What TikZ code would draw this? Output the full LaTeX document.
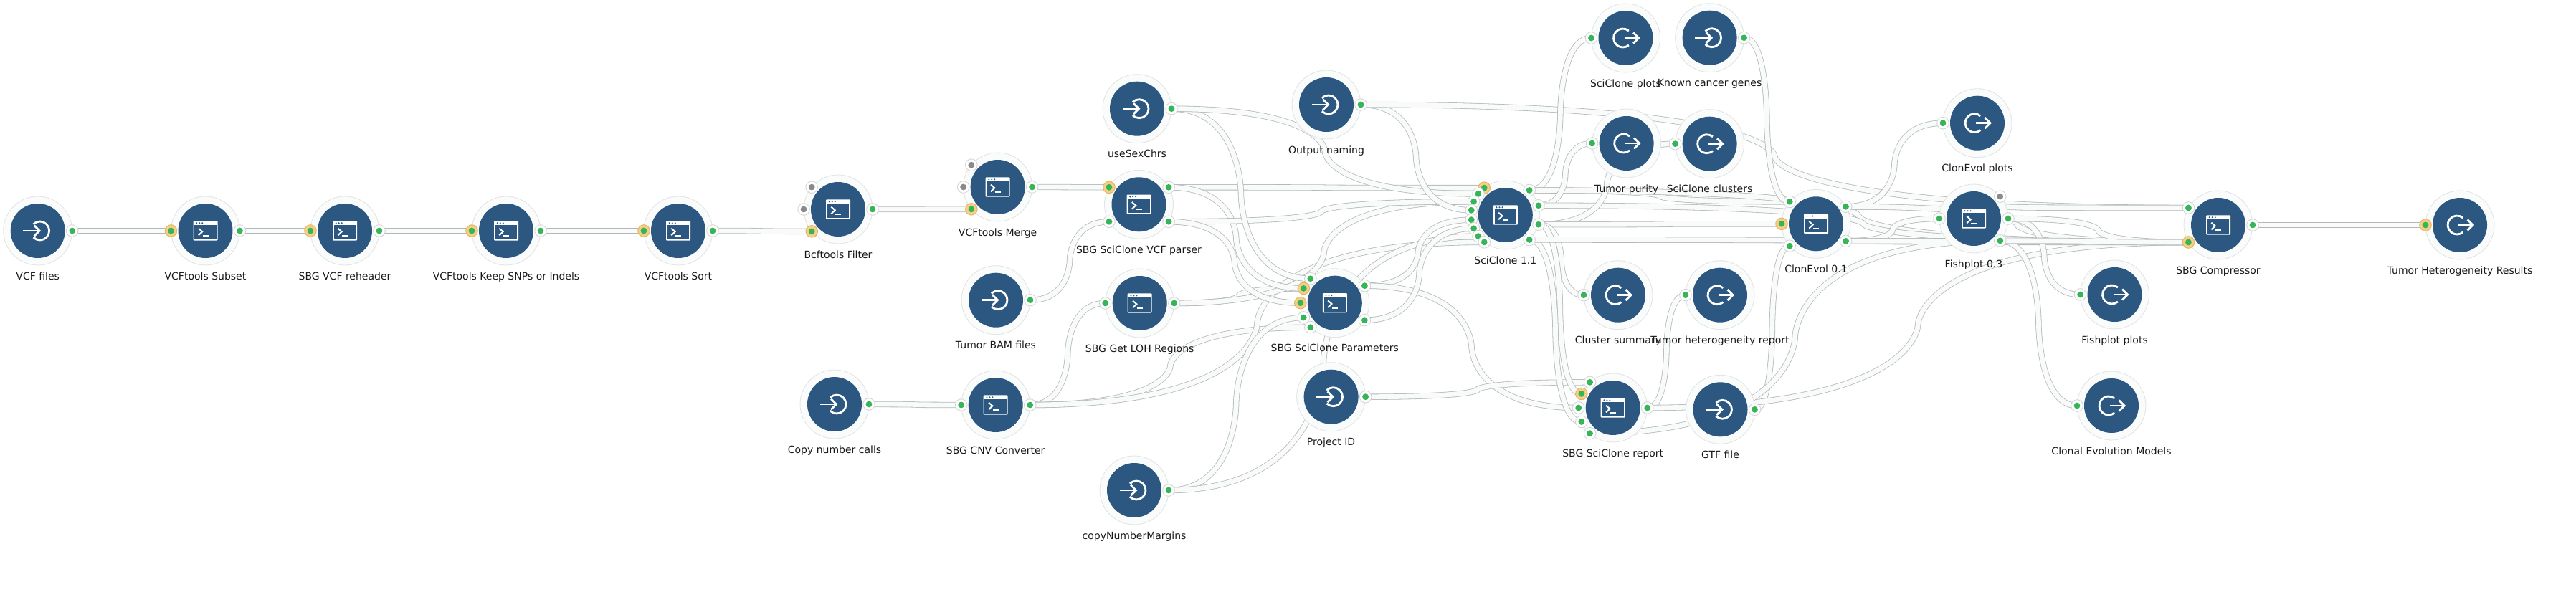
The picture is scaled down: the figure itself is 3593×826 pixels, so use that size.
\documentclass[tikz,border=0pt]{standalone}
\usepackage{fontspec}
\setmainfont{DejaVu Sans}
\usetikzlibrary{positioning,calc,backgrounds}
\definecolor{discblue}{HTML}{2B5780}
\definecolor{ringfill}{HTML}{FAFCFC}
\definecolor{ringedge}{HTML}{E2E5E5}
\definecolor{portedge}{HTML}{D2D5D5}
\definecolor{portgreen}{HTML}{35B558}
\definecolor{portgray}{HTML}{8A8A8A}
\definecolor{reqfill}{HTML}{F5CF85}
\definecolor{reqedge}{HTML}{DFB463}
\definecolor{wireedge}{HTML}{B4B8B8}
\definecolor{wirefill}{HTML}{F9FBFB}
\tikzset{
  pics/termicon/.style={code={
    \fill[white,rounded corners=1pt] (-17,-13.7) rectangle (17,13.7);
    \fill[discblue] (-15.3,-7.7) rectangle (15.3,12);
    \fill[discblue] (-12.3,-10.7) circle (1.1pt) (-8.3,-10.7) circle (1.1pt) (-4.3,-10.7) circle (1.1pt);
    \draw[white,line width=2pt] (-9.7,-3.3) -- (-4.3,1.3) -- (-9.7,6.3);
    \draw[white,line width=2pt] (-3.7,7) -- (4,7);
  }},
  pics/inicon/.style={code={
    \draw[white,line width=2.8pt] (3,0) ++(135:13pt) arc[start angle=135,end angle=-135,radius=13pt];
    \draw[white,line width=2.8pt] (-20.5,0) -- (2,0);
    \draw[white,line width=2.8pt] (-5,-7.5) -- (2.5,0) -- (-5,7.5);
  }},
  pics/outicon/.style={code={
    \draw[white,line width=2.8pt] (-4,0) ++(50:13pt) arc[start angle=50,end angle=310,radius=13pt];
    \draw[white,line width=2.8pt] (-2,0) -- (18,0);
    \draw[white,line width=2.8pt] (10.5,-7.5) -- (18,0) -- (10.5,7.5);
  }},
  disc/.style={circle,minimum size=96pt,inner sep=0pt,outer sep=0pt,draw=ringedge,line width=.9pt,fill=ringfill},
  toolnode/.style={disc,path picture={
    \fill[discblue] (path picture bounding box.center) circle (38pt);
    \pic at (path picture bounding box.center) {termicon};}},
  innode/.style={disc,path picture={
    \fill[discblue] (path picture bounding box.center) circle (38pt);
    \pic at (path picture bounding box.center) {inicon};}},
  outnode/.style={disc,path picture={
    \fill[discblue] (path picture bounding box.center) circle (38pt);
    \pic at (path picture bounding box.center) {outicon};}},
  port/.style={circle,minimum size=16.6pt,inner sep=0pt,outer sep=0pt,draw=portedge,line width=.9pt,fill=white,path picture={
    \fill[portgreen] (path picture bounding box.center) circle (4.4pt);}},
  reqport/.style={port,draw=reqedge,fill=reqfill},
  offport/.style={port,path picture={
    \fill[portgray] (path picture bounding box.center) circle (4.4pt);}},
  caption/.style={inner sep=0pt,text height=10.2pt,text depth=3pt,text=black!90,font=\fontsize{14}{17}\selectfont},
  wire/.style={line width=.8pt,
    every edge/.style={draw=wireedge,double=wirefill,double distance=6.8pt},
    to path={let \p1=(\tikztostart), \p2=(\tikztotarget), \p3=($(\p1)!0.5!(\p2)$) in
      .. controls (\x3,\y1) and (\x3,\y3) .. (\p3) .. controls (\x3,\y3) and (\x3,\y2) .. (\p2)}}
}

\begin{document}
\begin{tikzpicture}[x=1pt,y=-1pt,node distance=9.8pt]
  \useasboundingbox (0,0) rectangle (3593,826);

  % inputs and tools, left to right
  \node[innode] (vcf) at (52.7,322) {};
  \node[toolnode] (sub) at (286.5,322) {};
  \node[toolnode] (rehead) at (481,322) {};
  \node[toolnode] (keep) at (706,322) {};
  \node[toolnode] (sort) at (946,322) {};
  \node[toolnode] (bcf) at (1169,292) {};
  \node[toolnode] (merge) at (1391.6,261) {};
  \node[innode] (sexchrs) at (1586,151.7) {};
  \node[innode] (naming) at (1850,146) {};
  \node[toolnode] (parser) at (1588.5,285.3) {};
  \node[innode] (bam) at (1389,418.7) {};
  \node[toolnode] (loh) at (1589.7,423) {};
  \node[toolnode] (param) at (1861.8,422.7) {};
  \node[innode] (calls) at (1164,564) {};
  \node[toolnode] (cnv) at (1388.7,565) {};
  \node[innode] (project) at (1856.6,553.7) {};
  \node[innode] (margins) at (1582,684) {};
  \node[toolnode] (sc) at (2099.8,300) {};
  \node[outnode] (splots) at (2267.5,53) {};
  \node[innode] (known) at (2384.6,52.7) {};
  \node[outnode] (purity) at (2268.6,200) {};
  \node[outnode] (clusters) at (2384.6,200.7) {};
  \node[outnode] (summary) at (2257,411.7) {};
  \node[outnode] (hetrep) at (2399,411.7) {};
  \node[toolnode] (report) at (2249.7,569) {};
  \node[innode] (gtf) at (2399.5,571.3) {};
  \node[toolnode] (ce) at (2533,312.3) {};
  \node[outnode] (ceplots) at (2758,171.7) {};
  \node[toolnode] (fish) at (2753,305) {};
  \node[outnode] (fplots) at (2949.5,411) {};
  \node[outnode] (models) at (2945,566) {};
  \node[toolnode] (comp) at (3094,314) {};
  \node[outnode] (results) at (3431,314) {};

  % captions
  \node[caption,below=of vcf] (vcf-t) {VCF files};
  \node[caption,below=of sub] (sub-t) {VCFtools Subset};
  \node[caption,below=of rehead] (rehead-t) {SBG VCF reheader};
  \node[caption,below=of keep] (keep-t) {VCFtools Keep SNPs or Indels};
  \node[caption,below=of sort] (sort-t) {VCFtools Sort};
  \node[caption,below=of bcf] (bcf-t) {Bcftools Filter};
  \node[caption,below=of merge] (merge-t) {VCFtools Merge};
  \node[caption,below=of sexchrs] (sexchrs-t) {useSexChrs};
  \node[caption,below=of naming] (naming-t) {Output naming};
  \node[caption,below=of parser] (parser-t) {SBG SciClone VCF parser};
  \node[caption,below=of bam] (bam-t) {Tumor BAM files};
  \node[caption,below=of loh] (loh-t) {SBG Get LOH Regions};
  \node[caption,below=of param] (param-t) {SBG SciClone Parameters};
  \node[caption,below=of calls] (calls-t) {Copy number calls};
  \node[caption,below=of cnv] (cnv-t) {SBG CNV Converter};
  \node[caption,below=of project] (project-t) {Project ID};
  \node[caption,below=of margins] (margins-t) {copyNumberMargins};
  \node[caption,below=of sc] (sc-t) {SciClone 1.1};
  \node[caption,below=of splots] (splots-t) {SciClone plots};
  \node[caption,below=of known] (known-t) {Known cancer genes};
  \node[caption,below=of purity] (purity-t) {Tumor purity};
  \node[caption,below=of clusters] (clusters-t) {SciClone clusters};
  \node[caption,below=of summary] (summary-t) {Cluster summary};
  \node[caption,below=of hetrep] (hetrep-t) {Tumor heterogeneity report};
  \node[caption,below=of report] (report-t) {SBG SciClone report};
  \node[caption,below=of gtf] (gtf-t) {GTF file};
  \node[caption,below=of ce] (ce-t) {ClonEvol 0.1};
  \node[caption,below=of ceplots] (ceplots-t) {ClonEvol plots};
  \node[caption,below=of fish] (fish-t) {Fishplot 0.3};
  \node[caption,below=of fplots] (fplots-t) {Fishplot plots};
  \node[caption,below=of models] (models-t) {Clonal Evolution Models};
  \node[caption,below=of comp] (comp-t) {SBG Compressor};
  \node[caption,below=of results] (results-t) {Tumor Heterogeneity Results};

  % ports
  \node[port] (vcf-o) at (vcf.0) {};
  \node[reqport] (sub-i) at (sub.180) {};
  \node[port] (sub-o) at (sub.0) {};
  \node[reqport] (rehead-i) at (rehead.180) {};
  \node[port] (rehead-o) at (rehead.0) {};
  \node[reqport] (keep-i) at (keep.180) {};
  \node[port] (keep-o) at (keep.0) {};
  \node[reqport] (sort-i) at (sort.180) {};
  \node[port] (sort-o) at (sort.0) {};
  \node[offport] (bcf-a) at (bcf.140) {};
  \node[offport] (bcf-b) at (bcf.180) {};
  \node[reqport] (bcf-i) at (bcf.220) {};
  \node[port] (bcf-o) at (bcf.0) {};
  \node[offport] (merge-a) at (merge.140) {};
  \node[offport] (merge-b) at (merge.180) {};
  \node[reqport] (merge-i) at (merge.220) {};
  \node[port] (merge-o) at (merge.0) {};
  \node[port] (sexchrs-o) at (sexchrs.0) {};
  \node[port] (naming-o) at (naming.0) {};
  \node[reqport] (parser-i) at (parser.150) {};
  \node[port] (parser-j) at (parser.210) {};
  \node[port] (parser-o) at (parser.30) {};
  \node[port] (parser-p) at (parser.330) {};
  \node[port] (bam-o) at (bam.0) {};
  \node[port] (loh-i) at (loh.180) {};
  \node[port] (loh-o) at (loh.0) {};
  \node[port] (param-a) at (param.135) {};
  \node[reqport] (param-b) at (param.155) {};
  \node[reqport] (param-c) at (param.180) {};
  \node[port] (param-d) at (param.205) {};
  \node[port] (param-e) at (param.225) {};
  \node[port] (param-o) at (param.30) {};
  \node[port] (param-p) at (param.330) {};
  \node[port] (calls-o) at (calls.0) {};
  \node[port] (cnv-i) at (cnv.180) {};
  \node[port] (cnv-o) at (cnv.0) {};
  \node[port] (project-o) at (project.0) {};
  \node[port] (margins-o) at (margins.0) {};
  \node[reqport] (sc-a) at (sc.128) {};
  \node[port] (sc-b) at (sc.142) {};
  \node[port] (sc-c) at (sc.157) {};
  \node[port] (sc-d) at (sc.172) {};
  \node[port] (sc-e) at (sc.188) {};
  \node[port] (sc-f) at (sc.203) {};
  \node[port] (sc-g) at (sc.218) {};
  \node[port] (sc-h) at (sc.232) {};
  \node[port] (sc-o) at (sc.46) {};
  \node[port] (sc-p) at (sc.16) {};
  \node[port] (sc-q) at (sc.344) {};
  \node[port] (sc-r) at (sc.314) {};
  \node[port] (splots-i) at (splots.180) {};
  \node[port] (known-o) at (known.0) {};
  \node[port] (purity-i) at (purity.180) {};
  \node[port] (clusters-i) at (clusters.180) {};
  \node[port] (summary-i) at (summary.180) {};
  \node[port] (hetrep-i) at (hetrep.180) {};
  \node[port] (report-a) at (report.132) {};
  \node[reqport] (report-b) at (report.156) {};
  \node[port] (report-c) at (report.180) {};
  \node[port] (report-d) at (report.204) {};
  \node[port] (report-e) at (report.228) {};
  \node[port] (report-o) at (report.0) {};
  \node[port] (gtf-o) at (gtf.0) {};
  \node[port] (ce-a) at (ce.140) {};
  \node[reqport] (ce-b) at (ce.180) {};
  \node[port] (ce-c) at (ce.220) {};
  \node[port] (ce-o) at (ce.30) {};
  \node[port] (ce-p) at (ce.330) {};
  \node[port] (ceplots-i) at (ceplots.180) {};
  \node[offport] (fish-a) at (fish.40) {};
  \node[port] (fish-i) at (fish.180) {};
  \node[port] (fish-o) at (fish.0) {};
  \node[port] (fish-p) at (fish.320) {};
  \node[port] (fplots-i) at (fplots.180) {};
  \node[port] (models-i) at (models.180) {};
  \node[port] (comp-a) at (comp.150) {};
  \node[reqport] (comp-b) at (comp.210) {};
  \node[port] (comp-o) at (comp.0) {};
  \node[reqport] (results-i) at (results.180) {};

  \begin{pgfonlayer}{background}
    \path[wire]
    (vcf-o.center) edge (sub-i.center)
    (sub-o.center) edge (rehead-i.center)
    (rehead-o.center) edge (keep-i.center)
    (keep-o.center) edge (sort-i.center)
    (sort-o.center) edge (bcf-i.center)
    (bcf-o.center) edge (merge-i.center)
    (merge-o.center) edge (parser-i.center)
    (bam-o.center) edge (parser-j.center)
    (calls-o.center) edge (cnv-i.center)
    (cnv-o.center) edge (loh-i.center)
    (cnv-o.center) edge (param-e.center)
    (cnv-o.center) edge (sc-h.center)
    (loh-o.center) edge (param-b.center)
    (loh-o.center) edge (sc-c.center)
    (parser-o.center) edge (sc-a.center)
    (parser-o.center) edge (param-b.center)
    (parser-p.center) edge (sc-c.center)
    (parser-p.center) edge (param-c.center)
    (sexchrs-o.center) edge (param-a.center)
    (sexchrs-o.center) edge (sc-b.center)
    (naming-o.center) edge (sc-d.center)
    (naming-o.center) edge (comp-a.center)
    (margins-o.center) edge (param-d.center)
    (margins-o.center) edge (sc-g.center)
    (param-o.center) edge (sc-e.center)
    (param-o.center) edge (report-c.center)
    (param-p.center) edge (sc-f.center)
    (project-o.center) edge (report-a.center)
    (sc-o.center) edge (splots-i.center)
    (sc-o.center) edge (ce-a.center)
    (sc-o.center) edge (comp-b.center)
    (sc-p.center) edge (purity-i.center)
    (sc-p.center) edge (comp-b.center)
    (sc-q.center) edge (clusters-i.center)
    (sc-q.center) edge (ce-b.center)
    (sc-q.center) edge (summary-i.center)
    (sc-q.center) edge (report-b.center)
    (sc-r.center) edge (report-d.center)
    (sc-r.center) edge (comp-b.center)
    (known-o.center) edge (ce-a.center)
    (gtf-o.center) edge (ce-c.center)
    (report-o.center) edge (hetrep-i.center)
    (report-o.center) edge (comp-b.center)
    (fish-p.center) edge (report-e.center)
    (ce-o.center) edge (ceplots-i.center)
    (ce-o.center) edge (comp-a.center)
    (ce-o.center) edge (comp-b.center)
    (ce-p.center) edge (fish-i.center)
    (ce-p.center) edge (comp-b.center)
    (fish-o.center) edge (fplots-i.center)
    (fish-o.center) edge (comp-b.center)
    (fish-p.center) edge (models-i.center)
    (fish-p.center) edge (comp-b.center)
    (comp-o.center) edge (results-i.center);
  \end{pgfonlayer}
\end{tikzpicture}
\end{document}
